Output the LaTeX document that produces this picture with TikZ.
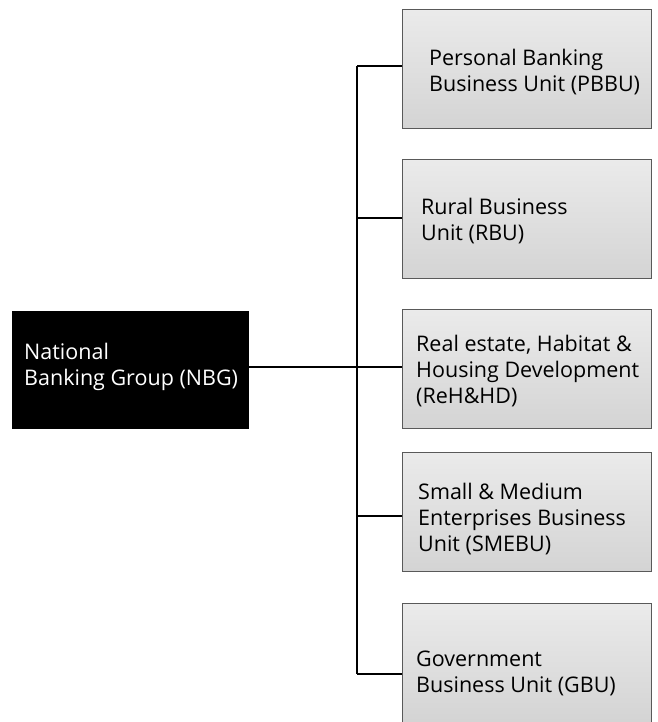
\documentclass[tikz,border=0pt]{standalone}
\usepackage{fontspec}
\setmainfont{Open Sans}
\tikzset{
  unitbox/.style={draw=black!65, line width=1.2pt, top color=black!8, bottom color=black!17,
    minimum width=249pt, minimum height=119pt, anchor=north west, inner sep=0pt},
  rootbox/.style={fill=black, minimum width=237pt, minimum height=118pt, anchor=north west, inner sep=0pt},
  unittext/.style={anchor=west, align=left, inner sep=0pt},
  link/.style={line width=1.2pt}
}
\begin{document}
\begin{tikzpicture}[x=1pt,y=-1pt]

  \useasboundingbox (0,0) rectangle (657,722); %% page

  \fontsize{21.5}{26}\selectfont

  \node[rootbox] (nbg) at (12,311) {};
  \node[unittext, text=white] (tnbg) at (24,367) {National\\Banking Group (NBG)};

  \node[unitbox] (b1) at (402,9) {};
  \node[unitbox] (b2) at (402,159) {};
  \node[unitbox] (b3) at (402,309) {};
  \node[unitbox] (b4) at (402,452) {};
  \node[unitbox] (b5) at (402,603) {};

  \node[unittext] (t1) at (429,72) {Personal Banking\\Business Unit (PBBU)};
  \node[unittext] (t2) at (421,221) {Rural Business\\Unit (RBU)};
  \node[unittext] (t3) at (416,371) {Real estate, Habitat \&\\Housing Development\\(ReH\&HD)};
  \node[unittext] (t4) at (418,519) {Small \& Medium\\Enterprises Business\\Unit (SMEBU)};
  \node[unittext] (t5) at (416,673) {Government\\Business Unit (GBU)};

  \coordinate (j1) at (357,66);
  \coordinate (j2) at (357,218);
  \coordinate (j3) at (357,367);
  \coordinate (j4) at (357,516);
  \coordinate (j5) at (357,674);

  \draw[link] (j1) -- (j5);
  \draw[link] (j3 -| nbg.east) -- (j3 -| b3.west);
  \draw[link] (j1) -- (j1 -| b1.west);
  \draw[link] (j2) -- (j2 -| b2.west);
  \draw[link] (j4) -- (j4 -| b4.west);
  \draw[link] (j5) -- (j5 -| b5.west);

\end{tikzpicture}
\end{document}
